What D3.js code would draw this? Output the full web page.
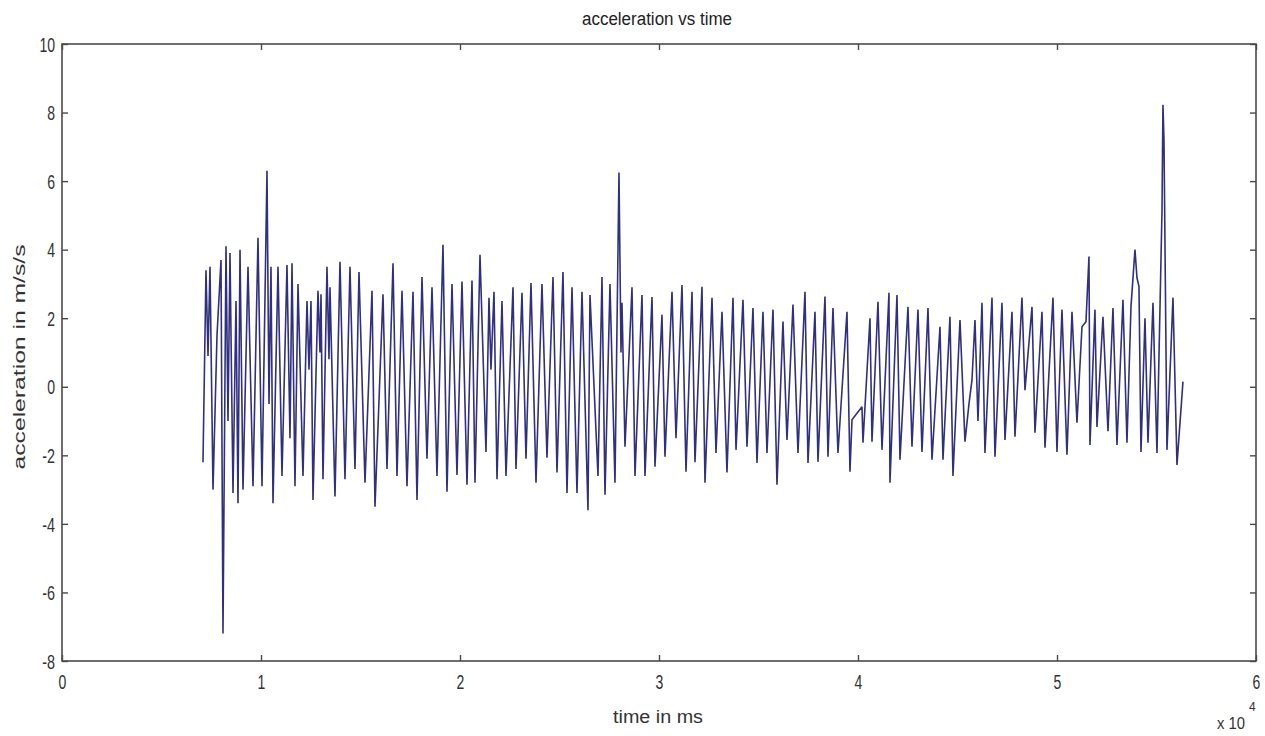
<!DOCTYPE html>
<html><head><meta charset="utf-8">
<script src="https://cdn.jsdelivr.net/npm/d3@7/dist/d3.min.js"></script>
<style>body{margin:0;background:#fff} svg{display:block}</style>
</head><body><svg id="c" width="1265" height="736"></svg>
<script>
// time in ms
const timeMs = [
7085,7236,7337,7437,7588,7789,7990,8090,8241,8342,8442,8593,8744,8844,8945,9095,9347,9598,9849,10050,
10301,10402,10502,10603,10854,11055,11306,11457,11558,11708,11859,12110,12311,12412,12512,12613,12864,12965,13015,13115,
13316,13417,13467,13718,13970,14221,14472,14723,14924,15226,15578,15728,16130,16331,16633,16834,17085,17336,
17638,17839,18090,18341,18593,18844,19145,19346,19598,19849,20100,20351,20603,20753,21005,21306,21457,21557,21708,21859,
22110,22311,22663,22814,23115,23316,23567,23819,24120,24371,24673,24874,25175,25376,25628,25879,26130,26432,26532,26934,
27135,27286,27537,27788,
27989,28090,28140,28291,28643,28793,29145,29296,29648,29798,30150,30301,30653,30854,31155,31356,31658,31808,32160,32311,
32663,32864,33165,33416,33718,33869,34220,34421,34723,34924,35225,35426,35728,35929,36230,36431,36733,36984,37336,37487,
37838,37989,
38341,38492,38743,38994,39446,39597,39698,40200,40250,40602,40703,41004,41205,41557,41607,41959,42110,42512,42713,43014,
43215,43517,43718,44120,44270,44622,44773,45125,45376,45577,45728,45878,46029,46230,46381,46733,46883,47235,47386,
47738,47888,48240,48391,48743,48893,49245,49396,49798,49999,50250,50501,50753,51004,51255,51456,51607,51657,51908,52009,
52310,52562,52813,53014,53315,53516,53717,53918,54019,54119,54220,54421,54572,54823,55024,55275,55325,55376,55526,55828,
56029,56330
];
// acceleration in m/s/s
const accel = [
-2.2,3.4,0.9,3.5,-3.0,1.5,3.7,-7.2,4.1,-1.0,3.9,-3.1,2.5,-3.4,4.0,-3.0,3.5,-2.9,4.35,-2.9,
6.3,-0.5,3.5,-3.4,3.5,-2.6,3.55,-1.5,3.6,-2.9,3.0,-2.6,2.5,0.5,2.5,-3.3,2.8,1.0,2.7,-2.7,
3.5,0.8,2.9,-3.2,3.65,-2.7,3.5,-2.4,3.35,-2.8,2.8,-3.5,2.7,-2.4,3.6,-2.6,2.8,-2.9,
2.77,-3.3,3.2,-2.1,2.9,-2.6,4.14,-3.06,3.0,-2.57,3.07,-2.86,3.1,-2.8,3.85,-1.9,2.6,0.5,2.77,-2.7,
2.5,-2.6,2.9,-2.4,2.74,-2.1,3.03,-2.8,3.0,-2.07,3.2,-2.5,3.35,-3.1,2.9,-3.1,2.77,-3.6,2.68,-2.6,
3.2,-3.15,3.0,-2.8,
6.25,1.0,2.45,-1.75,2.9,-2.6,2.68,-2.6,2.62,-2.33,2.1,-2.04,2.77,-1.5,2.97,-2.48,2.77,-2.2,2.92,-2.8,
2.6,-1.93,2.19,-2.5,2.6,-1.84,2.54,-1.75,2.3,-2.22,2.19,-1.93,2.25,-2.86,1.9,-1.55,2.4,-1.93,2.77,-2.22,
2.19,-2.19,
2.63,-2.04,2.3,-1.93,2.19,-2.48,-0.96,-0.58,-1.63,2.0,-1.6,2.48,-1.84,2.74,-2.8,2.68,-2.13,2.33,-1.75,2.25,
-1.9,2.3,-2.13,1.75,-2.13,2.04,-2.6,1.95,-1.6,-0.5,0.2,1.95,-1.0,2.45,-1.93,2.6,-2.04,2.45,-1.55,
2.19,-1.46,2.6,-0.1,2.33,-1.34,2.19,-1.78,2.6,-1.9,2.25,-1.98,2.19,-1.05,1.75,1.9,3.8,-1.7,2.25,-1.17,
2.04,-1.3,2.3,-1.7,2.54,-1.63,2.33,4.0,3.18,2.92,-1.9,2.0,-1.63,2.45,-1.93,5.1,8.23,7.2,-1.84,2.6,
-2.28,0.15
];
const xTicks = [0,10000,20000,30000,40000,50000,60000];
const xTickLabels = ["0","1","2","3","4","5","6"];
const yTicks = [-8,-6,-4,-2,0,2,4,6,8,10];
const titleText = "acceleration vs time";
const xLabelText = "time in ms";
const yLabelText = "acceleration in m/s/s";

const svg = d3.select("#c");
const L = 62, T = 44, W = 1194, H = 617;
const x = d3.scaleLinear().domain([0, 60000]).range([L, L + W]);
const y = d3.scaleLinear().domain([-8, 10]).range([T + H, T]);
const font = '"Liberation Sans",Arial,sans-serif';
const labelW = s => s.replace(/-/g, "").length * 7.8 + (s.includes("-") ? 5 : 0);

const pts = timeMs.map((t, i) => [t, accel[i]]);
const line = d3.line().x(d => x(d[0])).y(d => y(d[1]));
svg.append("path").datum(pts).attr("d", line)
  .attr("fill", "none").attr("stroke", "#30307f").attr("stroke-width", 1.6)
  .attr("stroke-linejoin", "miter").attr("stroke-miterlimit", 2);

const axCol = "#4a4a4a";
const tl = 6;
// bottom axis
const gx = svg.append("g").attr("transform", `translate(0,${T + H})`)
  .call(d3.axisBottom(x).tickValues(xTicks).tickSizeInner(-tl).tickSizeOuter(0)
    .tickFormat((d, i) => xTickLabels[i]));
gx.selectAll("text").attr("dy", null).attr("y", 28)
  .style("font-family", font).style("font-size", "20px").attr("fill", "#333")
  .attr("textLength", function() { return labelW(this.textContent); }).attr("lengthAdjust", "spacingAndGlyphs");
// top axis ticks
const gxt = svg.append("g").attr("transform", `translate(0,${T})`)
  .call(d3.axisTop(x).tickValues(xTicks).tickSizeInner(-tl).tickSizeOuter(0).tickFormat(""));
// left axis
const gy = svg.append("g").attr("transform", `translate(${L},0)`)
  .call(d3.axisLeft(y).tickValues(yTicks).tickSizeInner(-tl).tickSizeOuter(0).tickFormat(d => String(d)));
gy.selectAll("text").attr("x", -7).attr("dy", "0.36em")
  .style("font-family", font).style("font-size", "20px").attr("fill", "#333")
  .attr("textLength", function() { return labelW(this.textContent); }).attr("lengthAdjust", "spacingAndGlyphs");
// right axis ticks
const gyr = svg.append("g").attr("transform", `translate(${L + W},0)`)
  .call(d3.axisRight(y).tickValues(yTicks).tickSizeInner(-tl).tickSizeOuter(0).tickFormat(""));
[gx, gxt, gy, gyr].forEach(g => {
  g.select(".domain").remove();
  g.selectAll("line").attr("stroke", axCol).attr("stroke-width", 1.4);
});
// box
svg.append("rect").attr("x", L).attr("y", T).attr("width", W).attr("height", H)
  .attr("fill", "none").attr("stroke", axCol).attr("stroke-width", 1.6);

// title
svg.append("text").attr("x", 657).attr("y", 25).attr("text-anchor", "middle")
  .attr("textLength", 150).attr("lengthAdjust", "spacingAndGlyphs")
  .style("font-family", font).style("font-size", "18px").attr("fill", "#222").text(titleText);
// x label
svg.append("text").attr("x", 658).attr("y", 723).attr("text-anchor", "middle")
  .attr("textLength", 90).attr("lengthAdjust", "spacingAndGlyphs")
  .style("font-family", font).style("font-size", "18px").attr("fill", "#333").text(xLabelText);
// y label
svg.append("text").attr("transform", "translate(25,357) rotate(-90)").attr("text-anchor", "middle")
  .attr("textLength", 225).attr("lengthAdjust", "spacingAndGlyphs")
  .style("font-family", font).style("font-size", "16px").attr("fill", "#333").text(yLabelText);
// exponent
svg.append("text").attr("x", 1217).attr("y", 729)
  .attr("textLength", 28).attr("lengthAdjust", "spacingAndGlyphs")
  .style("font-family", font).style("font-size", "16px").attr("fill", "#333").text("x 10");
svg.append("text").attr("x", 1249).attr("y", 711)
  .style("font-family", font).style("font-size", "12px").attr("fill", "#333").text("4");
</script>
</body></html>
